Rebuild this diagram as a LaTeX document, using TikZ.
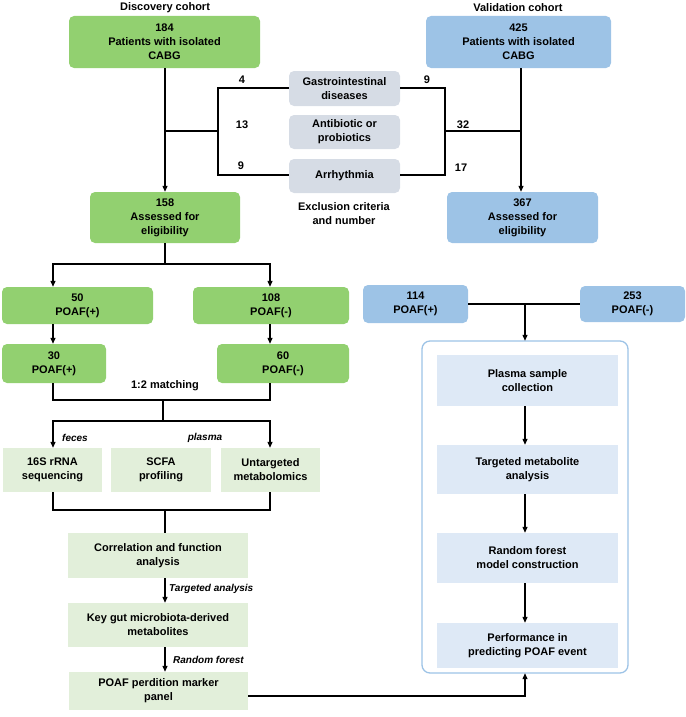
\documentclass[tikz,border=0pt]{standalone}
\usepackage{fontspec}
\setmainfont{Liberation Sans}
\usetikzlibrary{arrows.meta}
\definecolor{gD}{RGB}{146,208,112}
\definecolor{gL}{RGB}{226,239,218}
\definecolor{bD}{RGB}{157,195,230}
\definecolor{bL}{RGB}{222,233,246}
\definecolor{gr}{RGB}{214,220,229}
\begin{document}
\begin{tikzpicture}[x=1pt,y=-1pt,
  every node/.style={font=\fontsize{11}{14}\selectfont\bfseries,align=center,inner sep=0pt},
  box/.style={rounded corners=5pt},
  gbox/.style={box,fill=gD},
  bbox/.style={box,fill=bD},
  gray/.style={box,fill=gr},
  lg/.style={fill=gL},
  lb/.style={fill=bL},
  ln/.style={line width=1.2pt,black},
  ar/.style={ln,-{Triangle[length=6pt,width=5pt]}},
  lab/.style={font=\fontsize{10}{12}\selectfont\bfseries\itshape}]
\useasboundingbox (0,0) rectangle (685,717);
% helper: box by corners
\newcommand{\bx}[6]{\path[#1] (#3,#4) rectangle (#5,#6); \node (#2) at ({(#3+#5)/2},{(#4+#6)/2}) [minimum width=#5-#3, minimum height=#6-#4] {};}
\node (dc) at (165,8) {Discovery cohort};
\node (vc) at (518,8) {Validation cohort};
\bx{gbox}{a}{69}{16}{260}{68}
\node at (a) {184\\Patients with isolated\\CABG};
\bx{bbox}{va}{426}{16}{611}{68}
\node at (va) {425\\Patients with isolated\\CABG};
\bx{gray}{g1}{289}{71}{400}{106}
\node at (g1) {Gastrointestinal\\diseases};
\bx{gray}{g2}{289}{115}{400}{149}
\node at (g2) {Antibiotic or\\probiotics};
\bx{gray}{g3}{289}{159}{400}{193}
\node at (g3) {Arrhythmia};
\node (ex) at (344,214) {Exclusion criteria\\and number};
% brackets
\coordinate (lj) at (165,131); \coordinate (rj) at (521,131);
\draw[ln] (g1.west|-0,88) -- (218,88) -- (218,175) -- (g3.west|-0,175);
\draw[ln] (218,131) -- (lj);
\draw[ln] (g1.east|-0,88) -- (445,88) -- (445,175) -- (g3.east|-0,175);
\draw[ln] (445,131) -- (rj);
\node at (242,80) {4}; \node at (242,125) {13}; \node at (241,166) {9};
\node at (427,80) {9}; \node at (463,125) {32}; \node at (461,168) {17};
\bx{gbox}{b}{90}{192}{240}{243}
\node at (b) {158\\Assessed for\\eligibility};
\bx{bbox}{vb}{447}{192}{598}{243}
\node at (vb) {367\\Assessed for\\eligibility};
\draw[ar] (a.south-|165,0) -- (b.north-|165,0);
\draw[ar] (va.south-|521,0) -- (vb.north-|521,0);
% POAF
\bx{gbox}{c1}{2}{287}{153}{324}
\node at (c1) {50\\POAF(+)};
\bx{gbox}{c2}{193}{287}{349}{324}
\node at (c2) {108\\POAF(-)};
\bx{gbox}{d1}{2}{344}{106}{383}
\node at (d1) {30\\POAF(+)};
\bx{gbox}{d2}{217}{344}{349}{383}
\node at (d2) {60\\POAF(-)};
\draw[ln] (b.south-|165,0) -- (165,264);
\draw[ar] (165,264) -| (c1.north-|53,0);
\draw[ar] (165,264) -| (c2.north-|270,0);
\draw[ar] (c1.south-|53,0) -- (d1.north-|53,0);
\draw[ar] (c2.south-|270,0) -- (d2.north-|270,0);
\node at (165,386) {1:2 matching};
\draw[ln] (d1.south-|53,0) -- (53,400) -- (270,400) -- (d2.south-|270,0);
\draw[ln] (163,400) -- (163,421);
\bx{lg}{e1}{3}{448}{102}{492}
\node at (e1) {16S rRNA\\sequencing};
\bx{lg}{e2}{111}{448}{211}{492}
\node at (e2) {SCFA\\profiling};
\bx{lg}{e3}{221}{448}{320}{492}
\node at (e3) {Untargeted\\metabolomics};
\draw[ar] (163,421) -| (e1.north-|53,0);
\draw[ar] (163,421) -| (e3.north-|270,0);
\node[lab] at (75,438) {feces};
\node[lab] at (205,438) {plasma};
\draw[ln] (e1.south-|53,0) -- (53,510) -- (270,510) -- (e3.south-|270,0);
\bx{lg}{f}{68}{533}{248}{578}
\node at (f) {Correlation and function\\analysis};
\draw[ln] (165,510) -- (f.north-|165,0);
\bx{lg}{k}{68}{603}{248}{647}
\node at (k) {Key gut microbiota-derived\\metabolites};
\bx{lg}{p}{69}{672}{248}{710}
\node at (p) {POAF perdition marker\\panel};
\draw[ar] (f.south-|165,0) -- (k.north-|165,0);
\draw[ar] (k.south-|165,0) -- (p.north-|165,0);
\node[lab,anchor=west] at (169,589) {Targeted analysis};
\node[lab,anchor=west] at (173,660) {Random forest};
% validation right
\bx{bbox}{h1}{363}{285}{468}{323}
\node at (h1) {114\\POAF(+)};
\bx{bbox}{h2}{580}{286}{685}{322}
\node at (h2) {253\\POAF(-)};
\draw[ln] (h1.east|-0,304) -- (h2.west|-0,304);
\path[draw=bD,line width=1.3pt,rounded corners=8pt] (422,341) rectangle (628,673);
\node (fr) at (525,507) [minimum width=206pt,minimum height=332pt] {};
\draw[ar] (525,304) -- (fr.north);
\bx{lb}{i1}{437}{355}{618}{406}
\node at (i1) {Plasma sample\\collection};
\bx{lb}{i2}{437}{445}{618}{494}
\node at (i2) {Targeted metabolite\\analysis};
\bx{lb}{i3}{437}{533}{618}{583}
\node at (i3) {Random forest\\model construction};
\bx{lb}{i4}{437}{623}{618}{668}
\node at (i4) {Performance in\\predicting POAF event};
\draw[ar] (i1.south-|525,0) -- (i2.north-|525,0);
\draw[ar] (i2.south-|525,0) -- (i3.north-|525,0);
\draw[ar] (i3.south-|525,0) -- (i4.north-|525,0);
\draw[ar] (p.east|-0,696) -- (525,696) -- (fr.south);
\end{tikzpicture}
\end{document}
